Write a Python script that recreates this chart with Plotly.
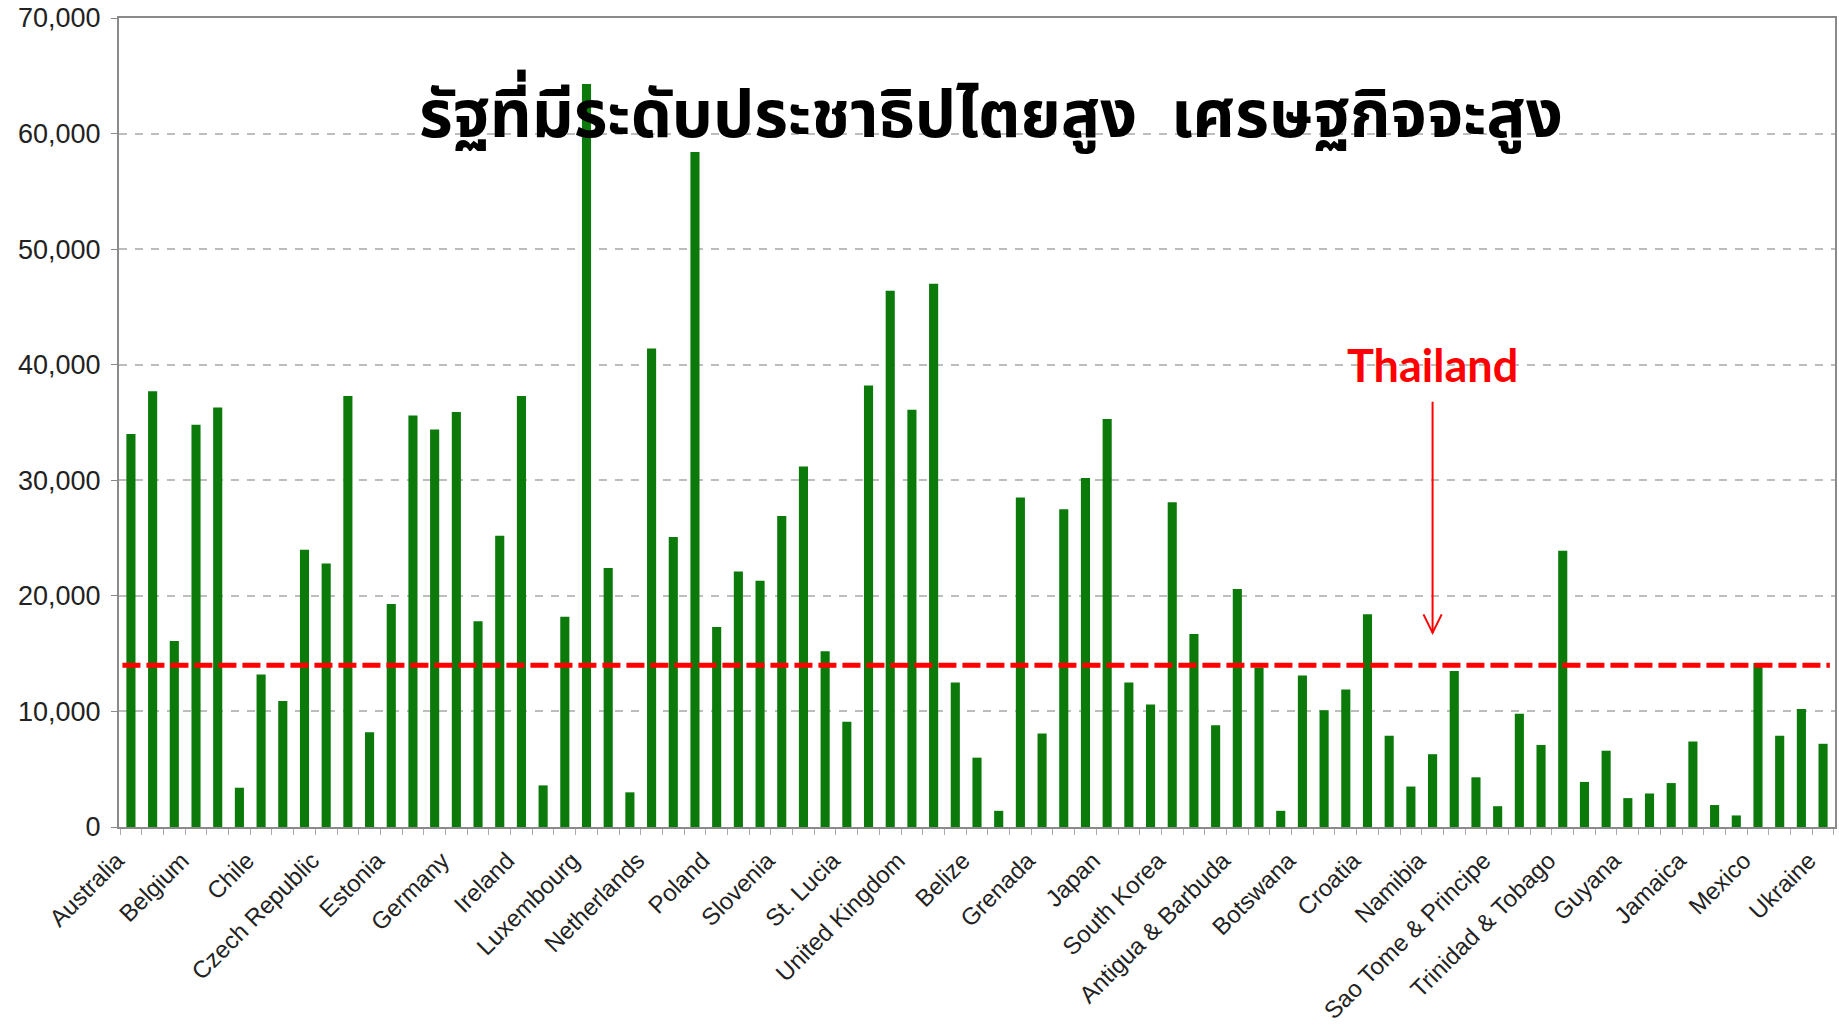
import plotly.graph_objects as go

# GDP per capita by country (USD), one bar per country; every third one is labelled
gdp_values = [
    34000, 37700, 16100, 34800, 36300, 3400, 13200, 10900, 24000, 22800,
    37300, 8200, 19300, 35600, 34400, 35900, 17800, 25200, 37300, 3600,
    18200, 64300, 22400, 3000, 41400, 25100, 58400, 17300, 22100, 21300,
    26900, 31200, 15200, 9100, 38200, 46400, 36100, 47000, 12500, 6000,
    1400, 28500, 8100, 27500, 30200, 35300, 12500, 10600, 28100, 16700,
    8800, 20600, 13800, 1400, 13100, 10100, 11900, 18400, 7900, 3500,
    6300, 13500, 4300, 1800, 9800, 7100, 23900, 3900, 6600, 2500,
    2900, 3800, 7400, 1900, 1000, 14200, 7900, 10200, 7200,
]

tick_labels = [
    "Australia", "Belgium", "Chile", "Czech Republic", "Estonia", "Germany",
    "Ireland", "Luxembourg", "Netherlands", "Poland", "Slovenia", "St. Lucia",
    "United Kingdom", "Belize", "Grenada", "Japan", "South Korea",
    "Antigua & Barbuda", "Botswana", "Croatia", "Namibia",
    "Sao Tome & Principe", "Trinidad & Tobago", "Guyana", "Jamaica",
    "Mexico", "Ukraine",
]
label_step = 3

y_ticks = [0, 10000, 20000, 30000, 40000, 50000, 60000, 70000]

thailand_level = 14000          # Thailand's GDP per capita reference line
thailand_pos = 60               # horizontal position of the Thailand marker
thailand_text_y = 40000
arrow_top, arrow_tip = 36800, 16800

title_text = "รัฐที่มีระดับประชาธิปไตยสูง  เศรษฐกิจจะสูง"

x_pos = list(range(len(gdp_values)))
tick_pos = x_pos[::label_step]

BAR_GREEN = "#0b7a0b"
AXIS_GREY = "#8a8a8a"
LABEL_FONT = "Liberation Sans, Arial, sans-serif"

fig = go.Figure()
fig.add_trace(go.Bar(
    x=x_pos,
    y=gdp_values,
    width=0.42,
    marker=dict(color=BAR_GREEN, line=dict(width=0)),
    hoverinfo="y",
))

fig.update_layout(
    width=1839,
    height=1027,
    margin=dict(l=119, r=4, t=18, b=200),
    paper_bgcolor="white",
    plot_bgcolor="white",
    showlegend=False,
    font=dict(family=LABEL_FONT, color="#222222"),
)

fig.update_xaxes(
    range=[-0.55, 78.55],
    automargin=False,
    tickmode="array",
    tickvals=tick_pos,
    ticktext=tick_labels,
    tickangle=-45,
    tickfont=dict(size=24, family=LABEL_FONT, color="#222222"),
    ticklabelstandoff=8,
    ticklabelshift=-14,
    ticks="",
    showgrid=False,
    showline=True,
    linecolor=AXIS_GREY,
    linewidth=2,
    mirror=True,
    zeroline=False,
    minor=dict(
        tickmode="linear",
        tick0=-0.5,
        dtick=1,
        ticks="outside",
        ticklen=6,
        tickcolor="#b0a8b0",
        tickwidth=1,
        showgrid=False,
    ),
)

fig.update_yaxes(
    range=[0, 70000],
    automargin=False,
    tickmode="array",
    tickvals=y_ticks,
    tickformat=",",
    tickfont=dict(size=27, family=LABEL_FONT, color="#222222"),
    ticklabelstandoff=5,
    ticks="outside",
    ticklen=6,
    tickcolor=AXIS_GREY,
    showgrid=True,
    gridcolor="#bdbdbd",
    gridwidth=2,
    griddash="8px,8px",
    showline=True,
    linecolor=AXIS_GREY,
    linewidth=2,
    mirror=True,
    zeroline=False,
)

# Thailand's level as a thick red dashed line across the plot
fig.add_shape(
    type="line", xref="paper", yref="y",
    x0=0.002, x1=0.997, y0=thailand_level, y1=thailand_level,
    line=dict(color="#ff0000", width=5, dash="18px,6px"),
)

# Arrow pointing down to the Thailand line
fig.add_shape(
    type="line", xref="x", yref="y",
    x0=thailand_pos, x1=thailand_pos, y0=arrow_top, y1=arrow_tip,
    line=dict(color="#ff0000", width=2),
)
head_dx, head_dy = 0.42, 1600
fig.add_shape(
    type="path", xref="x", yref="y",
    path=(f"M {thailand_pos - head_dx},{arrow_tip + head_dy} "
          f"L {thailand_pos},{arrow_tip} "
          f"L {thailand_pos + head_dx},{arrow_tip + head_dy}"),
    line=dict(color="#ff0000", width=2),
)

fig.add_annotation(
    x=thailand_pos, y=thailand_text_y, xref="x", yref="y",
    text="<b>Thailand</b>", showarrow=False,
    font=dict(family="Lato, Open Sans, sans-serif", size=45, color="#ff0000"),
    xanchor="center", yanchor="middle",
)

fig.add_annotation(
    x=0.508, y=0.878, xref="paper", yref="paper",
    text=f"<b>{title_text}</b>", showarrow=False,
    font=dict(family="Noto Sans Thai, Noto Sans, Tahoma, sans-serif", size=65, color="#000000"),
    xanchor="center", yanchor="middle",
)

fig.write_html("out.html")
